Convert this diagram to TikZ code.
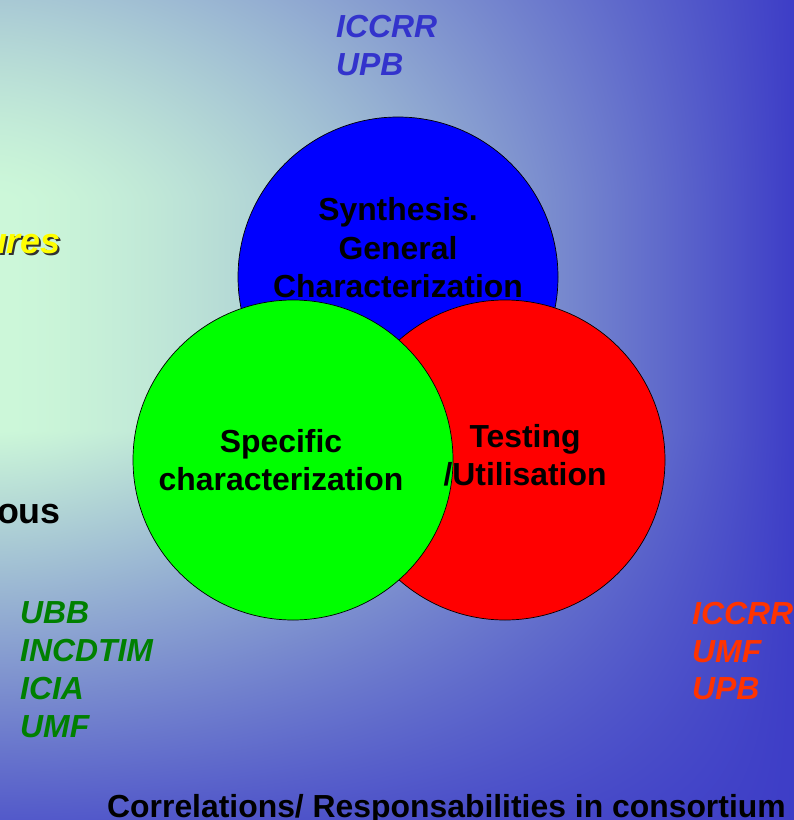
\documentclass[tikz,border=0pt]{standalone}
\usepackage{fontspec}
\setmainfont{Liberation Sans}
\definecolor{blueC}{RGB}{0,0,255}
\definecolor{greenC}{RGB}{0,255,0}
\definecolor{redC}{RGB}{255,0,0}
\definecolor{topTxt}{RGB}{51,51,204}
\definecolor{greenTxt}{RGB}{0,128,0}
\definecolor{redTxt}{RGB}{255,51,0}
\definecolor{yellowTxt}{RGB}{255,255,0}
\pgfdeclarefunctionalshading{bgshade}{\pgfpoint{0bp}{0bp}}{\pgfpoint{794bp}{820bp}}{}{
820 div exch 794 div
1.5 exp 1 exch sub
exch
dup 0.756 gt
{ 0.756 sub 0.244 div 1.4 exp 0.25 mul 1 exch sub }
{ dup 0.475 lt
  { 0.475 exch sub 0.475 div 0.85 mul 1 exch sub }
  { pop 1 }
  ifelse }
ifelse
mul
dup 0.56 mul 0.24 add exch dup 0.73 mul 0.24 add exch 0.07 mul 0.78 add
}
\tikzset{
  bigcircle/.style={circle, draw=black, line width=0.7bp, inner sep=0pt, minimum size=320bp},
  ctext/.style={anchor=base, inner sep=0pt, font=\fontsize{32}{38}\selectfont\bfseries, text=black},
  itlabel/.style={anchor=base west, inner sep=0pt, font=\fontsize{32}{38}\selectfont\bfseries\itshape},
}
\begin{document}
\begin{tikzpicture}[x=1bp, y=-1bp]
\useasboundingbox (0,0) rectangle (794,820);
\node[inner sep=0pt, outer sep=0pt, anchor=north west] (bg) at (0,0) {\pgfuseshading{bgshade}};

% circles
\node[bigcircle, fill=blueC] (blue) at (398,277) {};
\node[bigcircle, fill=redC] (red) at (505,460) {};
\node[bigcircle, fill=greenC] (green) at (293,460) {};

% circle texts
\node[ctext] (s1) at (398,220) {Synthesis.};
\node[ctext] (s2) at (398,259) {General};
\node[ctext] (s3) at (398,297) {Characterization};
\node[ctext] (g1) at (281,452) {Specific};
\node[ctext] (g2) at (281,490) {characterization};
\node[ctext] (r1) at (525,447) {Testing};
\node[ctext] (r2) at (525,485) {/Utilisation};

% partner labels
\node[itlabel, text=topTxt] (t1) at (336,38) {ICCRR};
\node[itlabel, text=topTxt] (t2) at (336,76) {UPB};
\node[itlabel, text=greenTxt] (l1) at (20,623) {UBB};
\node[itlabel, text=greenTxt] (l2) at (20,661) {INCDTIM};
\node[itlabel, text=greenTxt] (l3) at (20,699) {ICIA};
\node[itlabel, text=greenTxt] (l4) at (20,737) {UMF};
\node[itlabel, text=redTxt] (q1) at (692,624) {ICCRR};
\node[itlabel, text=redTxt] (q2) at (692,662) {UMF};
\node[itlabel, text=redTxt] (q3) at (692,699) {UPB};

% cut-off texts on the left
\node[anchor=base east, inner sep=0pt, font=\fontsize{36}{40}\selectfont\bfseries\itshape, text=black!80] (uresShadow) at (63,255) {ures};
\node[anchor=base east, inner sep=0pt, font=\fontsize{36}{40}\selectfont\bfseries\itshape, text=yellowTxt] (ures) at (61,253) {ures};
\node[anchor=base east, inner sep=0pt, font=\fontsize{36}{40}\selectfont\bfseries, text=black] (ous) at (61,523) {ous};

% title
\node[anchor=base west, inner sep=0pt, font=\fontsize{32}{38}\selectfont\bfseries, text=black] (title) at (107,817) {Correlations/ Responsabilities in consortium};
\end{tikzpicture}
\end{document}
